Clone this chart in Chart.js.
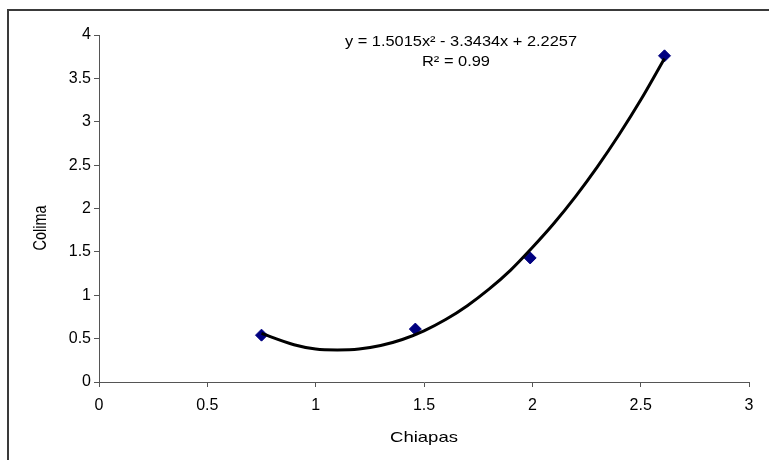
<!DOCTYPE html>
<html>
<head>
<meta charset="utf-8">
<script src="https://cdn.jsdelivr.net/npm/chart.js@4/dist/chart.umd.min.js"></script>
<style>
html,body{margin:0;padding:0;background:#fff;}
#wrap{width:769px;height:460px;position:relative;}
</style>
</head>
<body>
<div id="wrap"><canvas id="c" width="769" height="460"></canvas></div>
<script>
const pointX = [0.75, 1.46, 1.99, 2.61];
const pointY = [0.54, 0.61, 1.43, 3.76];
const trendX = [0.75, 0.9, 1.0, 1.1, 1.2, 1.3, 1.4, 1.5, 1.6, 1.7, 1.8, 1.9, 2.0, 2.1, 2.2, 2.3, 2.4, 2.5, 2.61];
const trendY = [0.56, 0.43, 0.38, 0.37, 0.38, 0.42, 0.49, 0.59, 0.72, 0.88, 1.07, 1.29, 1.55, 1.83, 2.14, 2.48, 2.85, 3.25, 3.73];
const xTicks = [0, 0.5, 1, 1.5, 2, 2.5, 3];
const yTicks = [0, 0.5, 1, 1.5, 2, 2.5, 3, 3.5, 4];
const xTitle = 'Chiapas';
const yTitle = 'Colima';
const eqLine1 = 'y = 1.5015x² - 3.3434x + 2.2257';
const eqLine2 = 'R² = 0.99';

const FONT = '"Liberation Sans", Arial, sans-serif';

function stretchText(ctx, text, cx, cy, targetW) {
  const w = ctx.measureText(text).width;
  const s = targetW / w;
  ctx.save();
  ctx.translate(cx, cy);
  ctx.scale(s, 1);
  ctx.fillText(text, 0, 0);
  ctx.restore();
}

const decor = {
  id: 'decor',
  afterDraw(chart) {
    const ctx = chart.ctx;
    const a = chart.chartArea;
    ctx.save();
    ctx.strokeStyle = '#3a3a3a';
    ctx.lineWidth = 2;
    ctx.strokeRect(8, 10, 820, 520);
    ctx.fillStyle = '#000';
    ctx.textAlign = 'center';
    ctx.textBaseline = 'middle';
    ctx.font = '15px ' + FONT;
    stretchText(ctx, eqLine1, 461, 42, 232);
    stretchText(ctx, eqLine2, 456, 62, 68);
    ctx.font = '15px ' + FONT;
    stretchText(ctx, xTitle, (a.left + a.right) / 2, 438, 68);
    ctx.translate(41, 228);
    ctx.rotate(-Math.PI / 2);
    ctx.font = '19px ' + FONT;
    stretchText(ctx, yTitle, 0, 0, 45);
    ctx.restore();
  }
};

new Chart(document.getElementById('c'), {
  type: 'scatter',
  data: {
    datasets: [
      {
        label: 'trend',
        data: trendX.map((x, i) => ({x: x, y: trendY[i]})),
        showLine: true,
        borderColor: '#000',
        borderWidth: 3,
        pointRadius: 0,
        tension: 0.4,
        cubicInterpolationMode: 'monotone',
        order: 0
      },
      {
        label: 'data',
        data: pointX.map((x, i) => ({x: x, y: pointY[i]})),
        showLine: false,
        pointStyle: 'rectRot',
        pointRadius: 6,
        backgroundColor: '#000080',
        borderColor: '#000080',
        borderWidth: 1,
        order: 1
      }
    ]
  },
  options: {
    responsive: false,
    animation: false,
    events: [],
    layout: {padding: {left: 0, right: 20, top: 35, bottom: 0}},
    plugins: {legend: {display: false}, tooltip: {enabled: false}},
    scales: {
      x: {
        type: 'linear',
        min: 0, max: 3,
        afterBuildTicks(s) { s.ticks = xTicks.map(v => ({value: v})); },
        afterFit(s) { s.height = 78; },
        grid: {display: true, drawOnChartArea: false, drawTicks: true, tickLength: 5, color: '#555'},
        border: {display: true, color: '#555', width: 1},
        ticks: {color: '#000', font: {family: FONT, size: 16}, padding: 9, maxRotation: 0, callback: v => String(v)}
      },
      y: {
        type: 'linear',
        min: 0, max: 4,
        afterBuildTicks(s) { s.ticks = yTicks.map(v => ({value: v})); },
        afterFit(s) { s.width = 99; },
        grid: {display: true, drawOnChartArea: false, drawTicks: true, tickLength: 5, color: '#555'},
        border: {display: true, color: '#555', width: 1},
        ticks: {color: '#000', font: {family: FONT, size: 16}, padding: 3, callback: v => String(v)}
      }
    }
  },
  plugins: [decor]
});
</script>
</body>
</html>
